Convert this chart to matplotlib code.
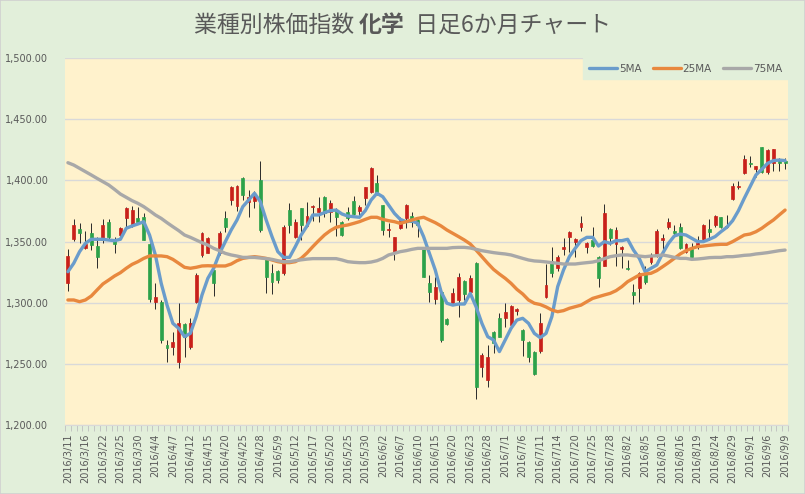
import numpy as np
import pandas as pd
import matplotlib
matplotlib.use("Agg")
import matplotlib.pyplot as plt
from matplotlib.patches import Rectangle

# 営業日 (2016/3/11 - 2016/9/9, 祝日除く)
holidays = ["2016-03-21", "2016-04-29", "2016-05-03", "2016-05-04",
            "2016-05-05", "2016-07-18", "2016-08-11"]
dates = pd.bdate_range("2016-03-11", "2016-09-09", freq="C", holidays=holidays)
labels = [f"{d.year}/{d.month}/{d.day}" for d in dates]

opens = [1315.8, 1352.0, 1360.0, 1344.4, 1356.7, 1346.3, 1351.2, 1366.2, 1351.2, 1355.3,
         1369.0, 1363.5, 1369.0, 1369.8, 1348.0, 1300.8, 1300.8, 1265.4, 1264.0, 1251.8,
         1282.6, 1263.5, 1300.8, 1339.0, 1340.9, 1326.7, 1340.3, 1369.0, 1383.9, 1379.3,
         1401.6, 1382.0, 1383.0, 1400.3, 1335.4, 1324.5, 1326.2, 1324.0, 1375.7, 1354.0,
         1377.1, 1362.7, 1378.0, 1374.4, 1386.6, 1374.4, 1375.7, 1366.2, 1374.4, 1383.1,
         1375.2, 1385.3, 1390.7, 1398.0, 1379.8, 1359.4, 1340.3, 1360.8, 1368.9, 1370.8,
         1367.6, 1344.4, 1315.8, 1302.7, 1309.0, 1286.4, 1300.0, 1302.2, 1318.0, 1309.0,
         1332.7, 1247.7, 1236.8, 1276.3, 1287.2, 1287.2, 1281.8, 1293.5, 1277.7, 1268.0,
         1260.0, 1260.8, 1304.4, 1334.3, 1328.1, 1343.8, 1354.0, 1349.9, 1362.1, 1345.8,
         1351.2, 1337.6, 1330.0, 1360.0, 1348.0, 1343.8, 1328.1, 1308.4, 1311.7, 1324.0,
         1333.5, 1338.2, 1351.2, 1361.6, 1358.9, 1361.6, 1341.7, 1343.6, 1345.2, 1351.8,
         1360.0, 1363.5, 1369.8, 1362.0, 1384.5, 1394.2, 1405.7, 1414.4, 1409.0, 1427.0,
         1407.1, 1413.9, 1416.1, 1416.1]
highs = [1343.6, 1368.0, 1365.4, 1358.9, 1364.8, 1354.0, 1368.0, 1368.0, 1354.0, 1362.0,
         1378.5, 1379.0, 1378.5, 1373.6, 1348.5, 1315.8, 1302.0, 1269.5, 1276.0, 1299.5,
         1283.1, 1287.2, 1324.0, 1358.0, 1354.0, 1326.7, 1358.9, 1375.2, 1395.4, 1396.2,
         1402.5, 1392.0, 1391.0, 1416.0, 1336.2, 1331.6, 1326.7, 1363.5, 1381.2, 1368.0,
         1377.1, 1382.6, 1380.0, 1386.6, 1387.2, 1383.9, 1377.1, 1366.8, 1378.5, 1387.2,
         1379.8, 1394.8, 1410.6, 1404.3, 1379.8, 1365.4, 1354.0, 1370.3, 1380.7, 1374.4,
         1368.1, 1345.2, 1322.6, 1320.7, 1309.8, 1287.2, 1311.7, 1324.0, 1318.5, 1322.6,
         1333.5, 1258.6, 1265.4, 1277.1, 1291.8, 1300.0, 1298.0, 1295.4, 1278.2, 1268.9,
         1260.8, 1291.8, 1331.6, 1345.2, 1339.0, 1352.6, 1358.9, 1352.5, 1370.8, 1349.9,
         1361.6, 1338.2, 1380.7, 1360.8, 1361.6, 1346.3, 1334.9, 1315.0, 1325.3, 1330.0,
         1340.3, 1360.0, 1356.1, 1369.0, 1363.5, 1364.8, 1348.5, 1349.0, 1354.5, 1364.3,
         1368.1, 1371.7, 1370.3, 1371.7, 1398.1, 1399.7, 1420.7, 1419.9, 1411.7, 1427.5,
         1425.3, 1425.3, 1418.0, 1418.0]
lows = [1309.8, 1350.7, 1348.5, 1343.9, 1343.0, 1328.0, 1348.5, 1351.0, 1340.3, 1354.0,
        1360.8, 1362.0, 1364.8, 1351.0, 1300.8, 1294.5, 1267.3, 1251.8, 1257.0, 1246.3,
        1255.9, 1261.9, 1300.0, 1337.6, 1340.3, 1305.7, 1339.0, 1358.0, 1379.8, 1375.2,
        1383.9, 1370.0, 1377.0, 1358.0, 1307.6, 1307.1, 1315.8, 1322.6, 1356.7, 1352.6,
        1351.2, 1361.6, 1367.0, 1366.2, 1370.3, 1366.2, 1354.8, 1354.8, 1367.6, 1371.7,
        1371.7, 1379.8, 1389.4, 1388.0, 1355.3, 1354.0, 1334.9, 1359.9, 1360.8, 1361.6,
        1354.0, 1321.3, 1300.8, 1299.0, 1268.0, 1281.8, 1299.0, 1288.0, 1302.2, 1307.6,
        1221.0, 1239.5, 1231.3, 1258.6, 1272.2, 1280.4, 1281.0, 1290.0, 1256.4, 1251.8,
        1240.9, 1258.6, 1303.6, 1321.3, 1326.2, 1339.0, 1341.7, 1337.0, 1358.9, 1340.9,
        1345.8, 1313.0, 1330.0, 1347.1, 1330.0, 1328.1, 1326.7, 1299.0, 1300.8, 1315.3,
        1331.9, 1337.6, 1342.5, 1359.9, 1355.3, 1343.6, 1340.9, 1337.0, 1343.6, 1351.2,
        1351.2, 1362.1, 1360.8, 1360.8, 1383.9, 1392.6, 1405.2, 1410.6, 1402.5, 1405.7,
        1405.2, 1407.9, 1407.9, 1409.0]
closes = [1338.0, 1363.5, 1357.2, 1348.0, 1347.1, 1337.0, 1363.5, 1354.0, 1348.0, 1360.8,
          1377.7, 1375.7, 1366.2, 1351.2, 1302.7, 1304.9, 1269.5, 1262.7, 1268.0, 1283.1,
          1272.2, 1283.7, 1322.6, 1357.2, 1352.6, 1315.8, 1356.7, 1361.6, 1394.8, 1395.4,
          1388.0, 1386.0, 1387.0, 1359.4, 1321.3, 1317.2, 1318.5, 1361.6, 1363.5, 1366.2,
          1363.5, 1370.8, 1379.0, 1377.1, 1373.0, 1381.2, 1370.3, 1355.3, 1368.9, 1372.5,
          1378.5, 1394.8, 1409.8, 1390.7, 1359.4, 1360.0, 1353.4, 1368.1, 1379.8, 1366.2,
          1363.5, 1321.3, 1309.0, 1313.0, 1269.5, 1282.6, 1307.6, 1321.3, 1307.1, 1319.9,
          1231.3, 1257.2, 1255.9, 1266.8, 1272.2, 1292.6, 1297.3, 1294.5, 1269.5, 1255.9,
          1241.7, 1283.7, 1314.4, 1324.5, 1337.6, 1345.2, 1358.0, 1351.8, 1364.8, 1348.5,
          1346.3, 1319.9, 1373.6, 1352.6, 1359.4, 1345.2, 1327.3, 1306.3, 1324.5, 1317.2,
          1338.2, 1358.9, 1352.6, 1366.2, 1357.2, 1344.4, 1348.0, 1337.6, 1348.5, 1363.5,
          1358.0, 1370.8, 1362.1, 1363.0, 1395.4, 1395.1, 1417.2, 1413.4, 1411.7, 1407.1,
          1424.8, 1425.3, 1413.9, 1414.4]

ma5 = [1325.3, 1332.2, 1341.7, 1348.5, 1351.8, 1351.8, 1351.8, 1351.2, 1350.7, 1351.8,
       1360.8, 1362.7, 1364.3, 1366.2, 1355.3, 1339.0, 1315.8, 1298.0, 1283.1, 1279.0,
       1272.2, 1274.9, 1288.6, 1306.3, 1319.9, 1328.1, 1340.3, 1349.9, 1359.4, 1367.6,
       1378.5, 1383.9, 1389.4, 1382.6, 1367.6, 1354.0, 1341.7, 1337.0, 1337.0, 1345.8,
       1355.3, 1362.7, 1371.7, 1371.7, 1373.6, 1375.2, 1375.7, 1372.5, 1370.8, 1370.3,
       1369.8, 1375.2, 1383.9, 1389.4, 1386.6, 1379.8, 1373.0, 1368.1, 1366.2, 1366.8,
       1364.8, 1354.0, 1340.3, 1326.7, 1309.0, 1299.5, 1298.0, 1298.9, 1298.9, 1307.6,
       1296.7, 1283.1, 1272.2, 1269.5, 1260.0, 1269.5, 1279.0, 1285.8, 1287.2, 1283.1,
       1274.9, 1271.4, 1274.9, 1288.6, 1313.1, 1326.7, 1337.6, 1344.4, 1350.7, 1353.4,
       1353.4, 1346.3, 1349.9, 1348.5, 1350.7, 1350.7, 1351.8, 1343.0, 1336.2, 1325.3,
       1328.1, 1330.8, 1340.3, 1348.5, 1354.5, 1356.1, 1355.3, 1352.6, 1349.9, 1349.9,
       1351.8, 1354.0, 1358.0, 1361.6, 1367.0, 1375.2, 1385.3, 1394.8, 1404.4, 1409.0,
       1413.9, 1416.1, 1416.6, 1416.1]
ma25 = [1302.2, 1302.2, 1300.8, 1302.2, 1305.4, 1310.4, 1315.3, 1318.5, 1321.8, 1324.5,
        1328.1, 1331.3, 1333.5, 1336.2, 1338.2, 1338.2, 1338.2, 1337.6, 1335.4, 1332.2,
        1328.9, 1328.1, 1328.9, 1330.0, 1330.2, 1330.0, 1330.0, 1330.0, 1331.6, 1334.3,
        1336.2, 1337.0, 1337.6, 1337.0, 1336.2, 1334.9, 1333.5, 1332.7, 1332.7, 1333.5,
        1336.2, 1340.6, 1345.8, 1350.7, 1355.3, 1358.9, 1361.6, 1362.7, 1363.5, 1364.8,
        1366.2, 1368.1, 1369.8, 1369.8, 1368.1, 1367.0, 1366.2, 1364.8, 1366.2, 1367.6,
        1368.9, 1369.8, 1367.6, 1365.4, 1362.7, 1359.4, 1356.7, 1354.0, 1351.2, 1348.0,
        1343.0, 1337.6, 1332.2, 1327.2, 1323.4, 1319.9, 1315.8, 1310.9, 1307.1, 1302.2,
        1299.5, 1298.5, 1296.5, 1294.0, 1292.6, 1293.5, 1295.4, 1296.7, 1298.0, 1300.8,
        1303.5, 1304.9, 1306.3, 1307.6, 1309.8, 1313.1, 1317.2, 1319.9, 1322.6, 1323.4,
        1324.0, 1326.2, 1329.4, 1332.7, 1336.2, 1339.8, 1342.5, 1344.4, 1345.8, 1346.3,
        1346.9, 1347.4, 1347.7, 1347.7, 1349.9, 1352.6, 1355.3, 1356.1, 1358.0, 1360.8,
        1364.3, 1367.6, 1371.7, 1375.7]
ma75 = [1414.4, 1412.5, 1409.8, 1407.1, 1404.4, 1401.6, 1398.9, 1396.2, 1392.6, 1388.8,
        1386.1, 1383.4, 1381.2, 1378.5, 1375.2, 1371.7, 1368.9, 1365.4, 1362.1, 1358.9,
        1355.3, 1353.4, 1351.2, 1349.0, 1347.1, 1344.4, 1342.5, 1340.3, 1339.0, 1338.1,
        1337.0, 1337.0, 1337.0, 1336.5, 1336.0, 1335.4, 1334.3, 1333.5, 1333.5, 1334.3,
        1335.0, 1335.6, 1336.0, 1336.0, 1336.0, 1336.0, 1336.0, 1334.9, 1333.5, 1333.0,
        1332.7, 1332.7, 1333.2, 1334.3, 1336.2, 1339.0, 1340.3, 1341.7, 1342.5, 1343.6,
        1344.4, 1344.4, 1344.4, 1344.4, 1344.4, 1344.4, 1345.0, 1345.2, 1345.2, 1344.7,
        1343.6, 1342.5, 1341.7, 1340.9, 1340.3, 1339.8, 1339.0, 1337.6, 1336.2, 1334.9,
        1334.1, 1333.8, 1333.3, 1332.7, 1332.2, 1331.6, 1331.6, 1331.6, 1332.2, 1332.7,
        1333.2, 1334.3, 1336.0, 1337.6, 1338.4, 1339.0, 1339.0, 1338.4, 1338.1, 1337.6,
        1338.1, 1338.4, 1339.0, 1338.1, 1337.0, 1336.2, 1336.2, 1335.4, 1335.7, 1336.2,
        1336.8, 1337.0, 1337.0, 1337.6, 1337.6, 1338.1, 1338.7, 1339.0, 1339.8, 1340.3,
        1340.9, 1341.7, 1342.5, 1343.0]

ma_names = ["5MA", "25MA", "75MA"]
ma_colors = ["#6A9CCB", "#E8883E", "#A8A8A8"]

BG_OUT = "#E2EFDA"
BG_PLOT = "#FFF2CC"
UP = "#C8201A"
DOWN = "#2CA24A"
TXT = "#595959"

plt.rcParams["font.family"] = ["DejaVu Sans"]

fig = plt.figure(figsize=(8.05, 4.94), dpi=100)
fig.patch.set_facecolor(BG_OUT)
ax = fig.add_axes([65 / 805, 1 - 425 / 494, (788 - 65) / 805, (425 - 58) / 494])
ax.set_facecolor(BG_PLOT)

x = np.arange(len(dates))
o = np.array(opens)
c = np.array(closes)
up = c >= o

# ローソク足
ax.vlines(x, lows, highs, color="#2a2a2a", lw=0.7, zorder=2)
ax.bar(x[up], (c - o)[up], bottom=o[up], width=0.5, color=UP,
       edgecolor=UP, lw=0.5, zorder=3)
ax.bar(x[~up], (o - c)[~up], bottom=c[~up], width=0.5, color=DOWN,
       edgecolor=DOWN, lw=0.5, zorder=3)

for vals, name, col in zip([ma5, ma25, ma75], ma_names, ma_colors):
    ax.plot(x, vals, color=col, lw=2.4, label=name, zorder=4,
            solid_joinstyle="round", solid_capstyle="round")

ax.set_xlim(-0.5, len(dates) - 0.5)
ax.set_ylim(1200, 1500)
ax.set_yticks(np.arange(1200, 1501, 50))
ax.set_yticklabels([f"{v:,.2f}" for v in np.arange(1200, 1501, 50)])
ax.grid(axis="y", color="#D9D9D9", lw=1, zorder=0)
ax.set_axisbelow(True)

ax.set_xticks(x[::3])
ax.set_xticklabels(labels[::3], rotation=90)
ax.set_xticks(np.arange(-0.5, len(dates), 1), minor=True)
ax.tick_params(axis="x", which="major", length=0, pad=6, labelsize=7, colors=TXT)
ax.tick_params(axis="x", which="minor", length=4, color="#BFBFBF", width=0.6)
ax.tick_params(axis="y", length=0, pad=12, labelsize=7, colors=TXT)

for s in ["top", "right", "left"]:
    ax.spines[s].set_visible(False)
ax.spines["bottom"].set_color("#D9D9D9")

leg = ax.legend(loc="upper right", bbox_to_anchor=(1.0, 1.0), ncol=3,
                frameon=True, fancybox=False, framealpha=1,
                facecolor=BG_OUT, edgecolor=BG_OUT, fontsize=7.5,
                handlelength=2.7, handletextpad=0.15, columnspacing=1.1,
                borderpad=0.55, borderaxespad=0)
for t in leg.get_texts():
    t.set_color(TXT)

# タイトル (化学のみ太字)
jp = ["Noto Sans CJK JP", "DejaVu Sans"]
parts = [("業種別株価指数 ", "normal"), ("化学", "bold"), ("  日足6か月チャート", "normal")]
fig.canvas.draw()
r = fig.canvas.get_renderer()
texts = []
for s, w in parts:
    texts.append(fig.text(0, 1 - 25 / 494, s, fontsize=16.5, family=jp,
                          weight=w, color=TXT, ha="left", va="center"))
widths = [t.get_window_extent(r).width for t in texts]
xpos = 402 - sum(widths) / 2
for t, wd in zip(texts, widths):
    t.set_x(xpos / 805)
    xpos += wd

fig.patches.append(Rectangle((0, 0), 1, 1, transform=fig.transFigure, fill=False,
                             edgecolor="#D0D0D0", lw=1.2))

fig.savefig("out.png", dpi=100, facecolor=fig.get_facecolor())
